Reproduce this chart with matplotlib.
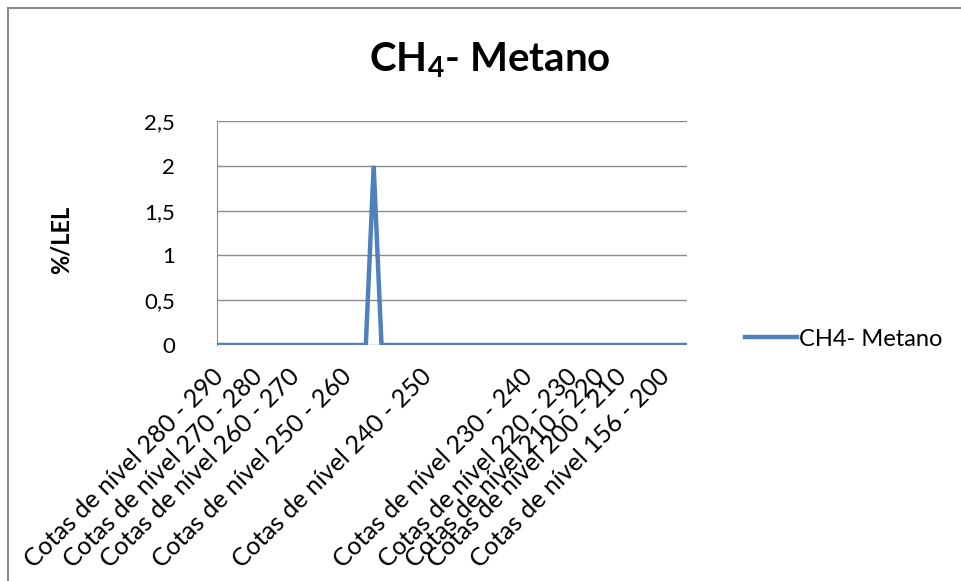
import matplotlib.pyplot as plt
from matplotlib.lines import Line2D

plt.rcParams['font.family'] = ['Lato', 'DejaVu Sans']
plt.rcParams['mathtext.fontset'] = 'custom'
plt.rcParams['mathtext.rm'] = 'Lato'
plt.rcParams['mathtext.bf'] = 'Lato:bold'

# 61 sampling points along the level bands, one reading of 2 %LEL
ch4 = [0] * 20 + [2] + [0] * 40
cat_labels = ['Cotas de nível 280 - 290', 'Cotas de nível 270 - 280',
              'Cotas de nível 260 - 270', 'Cotas de nível 250 - 260',
              'Cotas de nível 240 - 250', 'Cotas de nível 230 - 240',
              'Cotas de nível 220 - 230', 'Cotas de nível 210 - 220',
              'Cotas de nível 200 - 210', 'Cotas de nível 156 - 200']
label_pos = [1.4, 6.3, 11.1, 17.8, 27.9, 40.8, 46.6, 50.0, 52.8, 58.4]
yticks = [0, 0.5, 1, 1.5, 2, 2.5]
ytick_labels = ['0', '0,5', '1', '1,5', '2', '2,5']

W, H = 961, 581
fig = plt.figure(figsize=(W / 100, H / 100), dpi=100)
ax = fig.add_axes([217 / W, 1 - 345 / H, 470 / W, 224 / H])

ax.plot(range(len(ch4)), ch4, color='#4F81BD', lw=3.2,
        solid_joinstyle='miter', label='CH4- Metano', zorder=3)

ax.set_xlim(0, len(ch4) - 1)
ax.set_ylim(0, 2.5)
ax.set_yticks(yticks)
ax.set_yticklabels(ytick_labels, fontsize=16)
ax.set_xticks(label_pos)
ax.set_xticklabels(cat_labels, rotation=45, ha='right', fontsize=18)
ax.tick_params(axis='y', length=0, pad=30)
ax.tick_params(axis='x', length=0, pad=14)
ax.yaxis.grid(True, color='#8c8c8c', lw=1)
ax.set_axisbelow(True)
for side in ['top', 'right', 'bottom']:
    ax.spines[side].set_visible(False)
ax.spines['left'].set_color('#8c8c8c')

fig.text(61 / W, 1 - 240 / H, '%/LEL', fontsize=17, fontweight='bold',
         rotation=90, ha='center', va='center')

fig.text(490 / W, 1 - 60 / H, r'CH$_{\mathbf{4}}$- Metano', fontsize=29,
         fontweight='bold', ha='center', va='center')

ax.legend(loc='center left', bbox_to_anchor=(745 / W, 1 - 339 / H),
          bbox_transform=fig.transFigure, frameon=False, fontsize=17,
          handlelength=2.2, handletextpad=0.1, borderpad=0, borderaxespad=0)

# chart area frame (only top and left edges are in the crop)
fig.add_artist(Line2D([8 / W, 8 / W], [0, 1 - 8 / H], color='#8c8c8c', lw=1.5))
fig.add_artist(Line2D([8 / W, 1], [1 - 8 / H, 1 - 8 / H], color='#8c8c8c', lw=1.5))

fig.savefig('out.png', dpi=100)
